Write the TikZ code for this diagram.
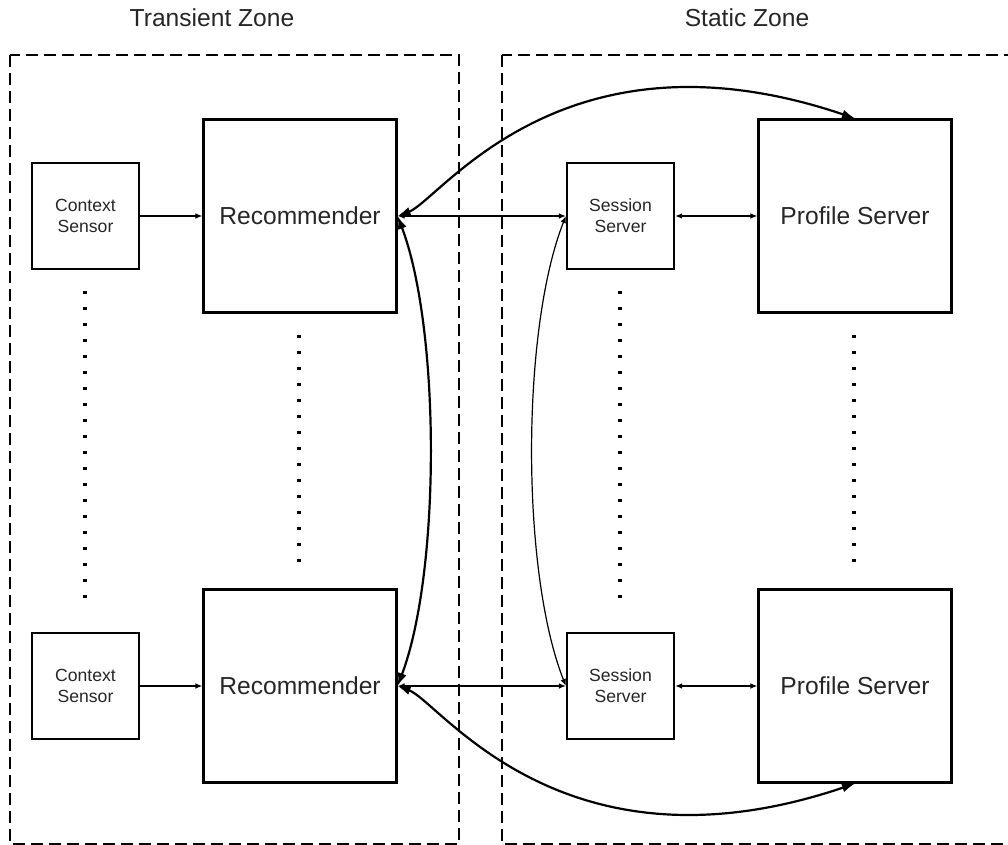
\documentclass[tikz,border=0pt]{standalone}
\usepackage{fontspec}
\setmainfont{Liberation Sans}
\usetikzlibrary{arrows.meta}

\begin{document}
\begin{tikzpicture}
        [x=0.5pt,y=-0.5pt,
         box/.style={draw,line width=1.1pt,inner sep=0pt,align=center,text=black!85},
         smallbox/.style={box,minimum width=53.5pt,minimum height=53pt,
           font=\fontsize{8.8}{10.4}\selectfont},
         bigbox/.style={box,minimum width=96.5pt,minimum height=96.5pt,
           font=\fontsize{12.3}{14}\selectfont},
         zonelabel/.style={text=black!85,font=\fontsize{12.3}{14}\selectfont},
         zoneline/.style={line width=1pt,dash pattern=on 6pt off 3pt},
         dotline/.style={line width=1.6pt,dash pattern=on 1.6pt off 6.4pt},
         onelink/.style={line width=0.6pt,-{Latex[length=3.5pt,width=2.8pt]}},
         twolink/.style={line width=0.6pt,{Latex[length=3.5pt,width=2.8pt]}-{Latex[length=3.5pt,width=2.8pt]}},
         longlink/.style={line width=1.1pt,{Latex[length=6.5pt,width=4.6pt]}-{Latex[length=6.5pt,width=4.6pt]}}]
        \useasboundingbox (0,0) rectangle (1008,845);

        \node[zonelabel] (transient) at (212,18) {Transient Zone};
        \node[zonelabel] (static) at (747,18) {Static Zone};

        \draw[zoneline] (10,55) rectangle (459,844);
        \draw[zoneline] (502,55) rectangle (1014,844);

        \node[smallbox] (ctxA) at (85.5,216) {Context\\Sensor};
        \node[bigbox] (recA) at (300,216) {Recommender};
        \node[smallbox] (sesA) at (620.5,216) {Session\\Server};
        \node[bigbox] (profA) at (855,216) {Profile Server};

        \node[smallbox] (ctxB) at (85.5,686) {Context\\Sensor};
        \node[bigbox] (recB) at (300,686) {Recommender};
        \node[smallbox] (sesB) at (620.5,686) {Session\\Server};
        \node[bigbox] (profB) at (855,686) {Profile Server};

        % more of the same in between
        \draw[dotline] (85,291) -- (85,600);
        \draw[dotline] (620,291) -- (620,600);
        \draw[dotline] (299,335) -- (299,565);
        \draw[dotline] (854,335) -- (854,565);

        \draw[onelink] (ctxA) -- (recA);
        \draw[onelink] (ctxB) -- (recB);
        \draw[twolink] (recA) -- (sesA);
        \draw[twolink] (recB) -- (sesB);
        \draw[twolink] (sesA) -- (profA);
        \draw[twolink] (sesB) -- (profB);

        \draw[twolink] (sesA.west) .. controls +(-45,114) and +(-45,-114) .. (sesB.west);
        \draw[longlink] (recA.east) .. controls +(43,114) and +(43,-114) .. (recB.east);
        \draw[longlink] (recA.east) .. controls +(43,-16) and +(-293,-99) .. (profA.north);
        \draw[longlink] (recB.east) .. controls +(43,16) and +(-293,99) .. (profB.south);
      \end{tikzpicture}
\end{document}
